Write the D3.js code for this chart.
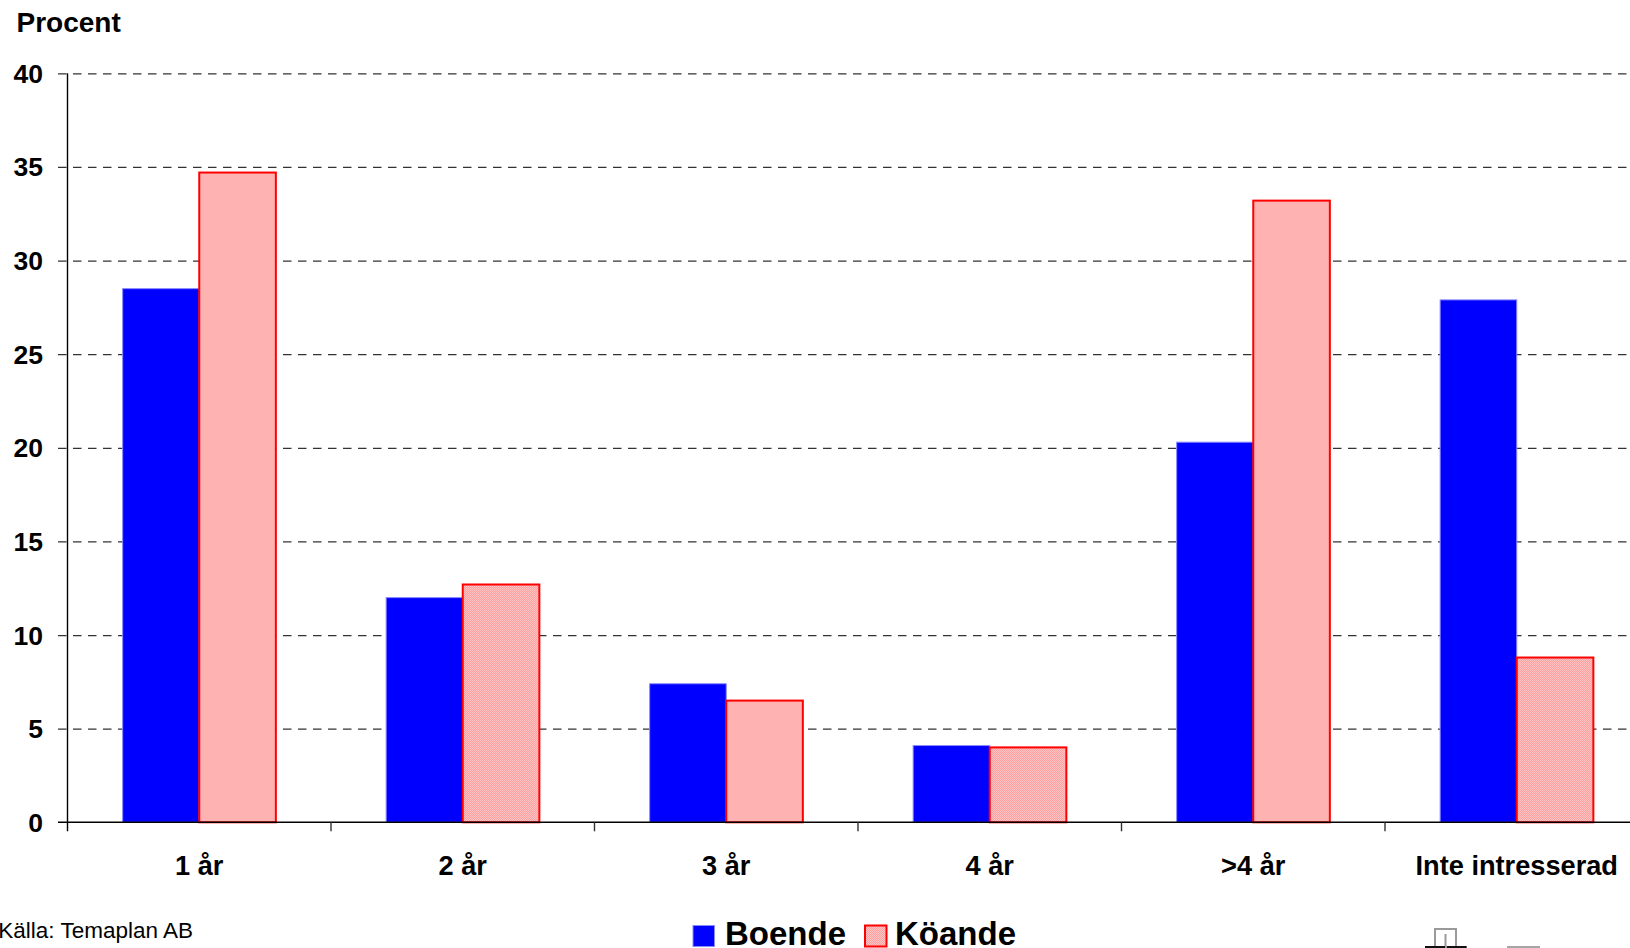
<!DOCTYPE html>
<html>
<head>
<meta charset="utf-8">
<script src="https://cdn.jsdelivr.net/npm/d3@7"></script>
<style>
  html, body { margin: 0; padding: 0; background: #fff; overflow: hidden; }
  svg { display: block; }
  text { font-family: "Liberation Sans", Arial, sans-serif; }
</style>
</head>
<body>
<svg id="chart" width="1630" height="948"></svg>
<script>
// Survey answers: how long people are prepared to wait, in percent
const categories = ["1 år", "2 år", "3 år", "4 år", ">4 år", "Inte intresserad"];
const seriesNames = ["Boende", "Köande"];
const boende = [28.5, 12.0, 7.4, 4.1, 20.3, 27.9];
const koande = [34.7, 12.7, 6.5, 4.0, 33.2, 8.8];
const yTicks = [0, 5, 10, 15, 20, 25, 30, 35, 40];

const seriesValues = { "Boende": boende, "Köande": koande };
const rows = categories.map((c, i) => ({
  category: c,
  values: seriesNames.map(s => ({ series: s, value: seriesValues[s][i] }))
}));

const svg = d3.select("#chart");
const W = 1630, H = 948;

// Plot frame (the plot continues past the right edge of the canvas)
const plotLeft = 67.5, plotTop = 73.3, plotBottom = 822.3;
const step = 263.5;

const x0 = d3.scaleBand().domain(categories)
  .range([plotLeft, plotLeft + step * categories.length])
  .paddingInner(0).paddingOuter(0);
const x1 = d3.scaleBand().domain(seriesNames)
  .range([0, x0.bandwidth()])
  .paddingInner(0).paddingOuter(0.72);
const y = d3.scaleLinear().domain([0, 40]).range([plotBottom, plotTop]);

// Fine dithered pink fill used for the second series
const defs = svg.append("defs");
const pat = defs.append("pattern").attr("id", "pinkDither")
  .attr("width", 2).attr("height", 2).attr("patternUnits", "userSpaceOnUse");
pat.append("rect").attr("width", 2).attr("height", 2).attr("fill", "#ffc4c4");
pat.append("rect").attr("width", 1).attr("height", 1).attr("fill", "#ffa0a0");
pat.append("rect").attr("x", 1).attr("y", 1).attr("width", 1).attr("height", 1).attr("fill", "#ffa0a0");

const fills = { "Boende": "#0000ff", "Köande": "url(#pinkDither)" };
const strokes = { "Boende": "#8a8aff", "Köande": "#ff0000" };
const strokeW = { "Boende": 1, "Köande": 2 };

// Dashed horizontal gridlines with short ticks on the left
const yAxis = d3.axisLeft(y).tickValues(yTicks.filter(v => v > 0))
  .tickSize(-(W - plotLeft + 10)).tickFormat("");
const gGrid = svg.append("g").attr("transform", `translate(${plotLeft},0)`).call(yAxis);
gGrid.select(".domain").remove();
gGrid.selectAll(".tick line")
  .attr("x1", -9.5)
  .attr("stroke", "#333")
  .attr("stroke-width", 1.3)
  .attr("stroke-dasharray", "8.5,6.5");

// Bars
const groups = svg.append("g").selectAll("g").data(rows).join("g")
  .attr("transform", d => `translate(${x0(d.category)},0)`);
groups.selectAll("rect").data(d => d.values).join("rect")
  .attr("x", d => x1(d.series))
  .attr("width", x1.bandwidth())
  .attr("y", d => y(d.value))
  .attr("height", d => y(0) - y(d.value))
  .attr("fill", d => fills[d.series])
  .attr("stroke", d => strokes[d.series])
  .attr("stroke-width", d => strokeW[d.series]);

// Y axis line
svg.append("line")
  .attr("x1", plotLeft).attr("x2", plotLeft)
  .attr("y1", plotTop).attr("y2", plotBottom + 9)
  .attr("stroke", "#000").attr("stroke-width", 1.4);

// Baseline and category boundary ticks
const xAxis = d3.axisBottom(x0).tickSize(0).tickFormat("");
const gX = svg.append("g").attr("transform", `translate(0,${plotBottom})`).call(xAxis);
gX.select(".domain").remove();
svg.append("line")
  .attr("x1", plotLeft - 9.5).attr("x2", W)
  .attr("y1", plotBottom).attr("y2", plotBottom)
  .attr("stroke", "#000").attr("stroke-width", 1.4);
svg.append("g").selectAll("line").data(categories.slice(1)).join("line")
  .attr("x1", d => x0(d)).attr("x2", d => x0(d))
  .attr("y1", plotBottom).attr("y2", plotBottom + 9)
  .attr("stroke", "#333").attr("stroke-width", 1.4);

// Y tick labels
svg.append("g").selectAll("text").data(yTicks).join("text")
  .attr("x", 43).attr("y", d => y(d))
  .attr("dy", "0.36em")
  .attr("text-anchor", "end")
  .attr("font-weight", "bold")
  .attr("font-size", 26.5)
  .attr("fill", "#000")
  .text(d => d);

// Category labels
svg.append("g").selectAll("text").data(categories).join("text")
  .attr("x", d => x0(d) + x0.bandwidth() / 2)
  .attr("y", 875)
  .attr("text-anchor", "middle")
  .attr("font-weight", "bold")
  .attr("font-size", 27.2)
  .attr("fill", "#000")
  .text(d => d);

// Unit label
svg.append("text")
  .attr("x", 16.5).attr("y", 31.5)
  .attr("font-weight", "bold")
  .attr("font-size", 28)
  .attr("fill", "#000")
  .text("Procent");

// Source note
svg.append("text")
  .attr("x", 193).attr("y", 938.3)
  .attr("text-anchor", "end")
  .attr("font-size", 22.5)
  .attr("fill", "#000")
  .text("Källa: Temaplan AB");

// Legend
const legendItems = [
  { series: "Boende", sx: 693, tx: 725 },
  { series: "Köande", sx: 865, tx: 895 }
];
const lg = svg.append("g");
lg.selectAll("rect").data(legendItems).join("rect")
  .attr("x", d => d.sx).attr("y", 925.5)
  .attr("width", 21.5).attr("height", 21)
  .attr("fill", d => fills[d.series])
  .attr("stroke", d => strokes[d.series])
  .attr("stroke-width", d => strokeW[d.series]);
lg.selectAll("text").data(legendItems).join("text")
  .attr("x", d => d.tx).attr("y", 945)
  .attr("font-weight", "bold")
  .attr("font-size", 33)
  .attr("fill", "#000")
  .text(d => d.series);

// Partly visible drawing symbols at the bottom edge
const sym = svg.append("g");
sym.append("path")
  .attr("d", "M1435,948 V929 H1456 V948 M1445.5,934 V948")
  .attr("fill", "none").attr("stroke", "#9a9a9a").attr("stroke-width", 2);
sym.append("rect").attr("x", 1425).attr("y", 946).attr("width", 20).attr("height", 2).attr("fill", "#111");
sym.append("rect").attr("x", 1446.7).attr("y", 946).attr("width", 20).attr("height", 2).attr("fill", "#111");
sym.append("line").attr("x1", 1507).attr("x2", 1540).attr("y1", 947).attr("y2", 947)
  .attr("stroke", "#888").attr("stroke-width", 1.5);
</script>
</body>
</html>
